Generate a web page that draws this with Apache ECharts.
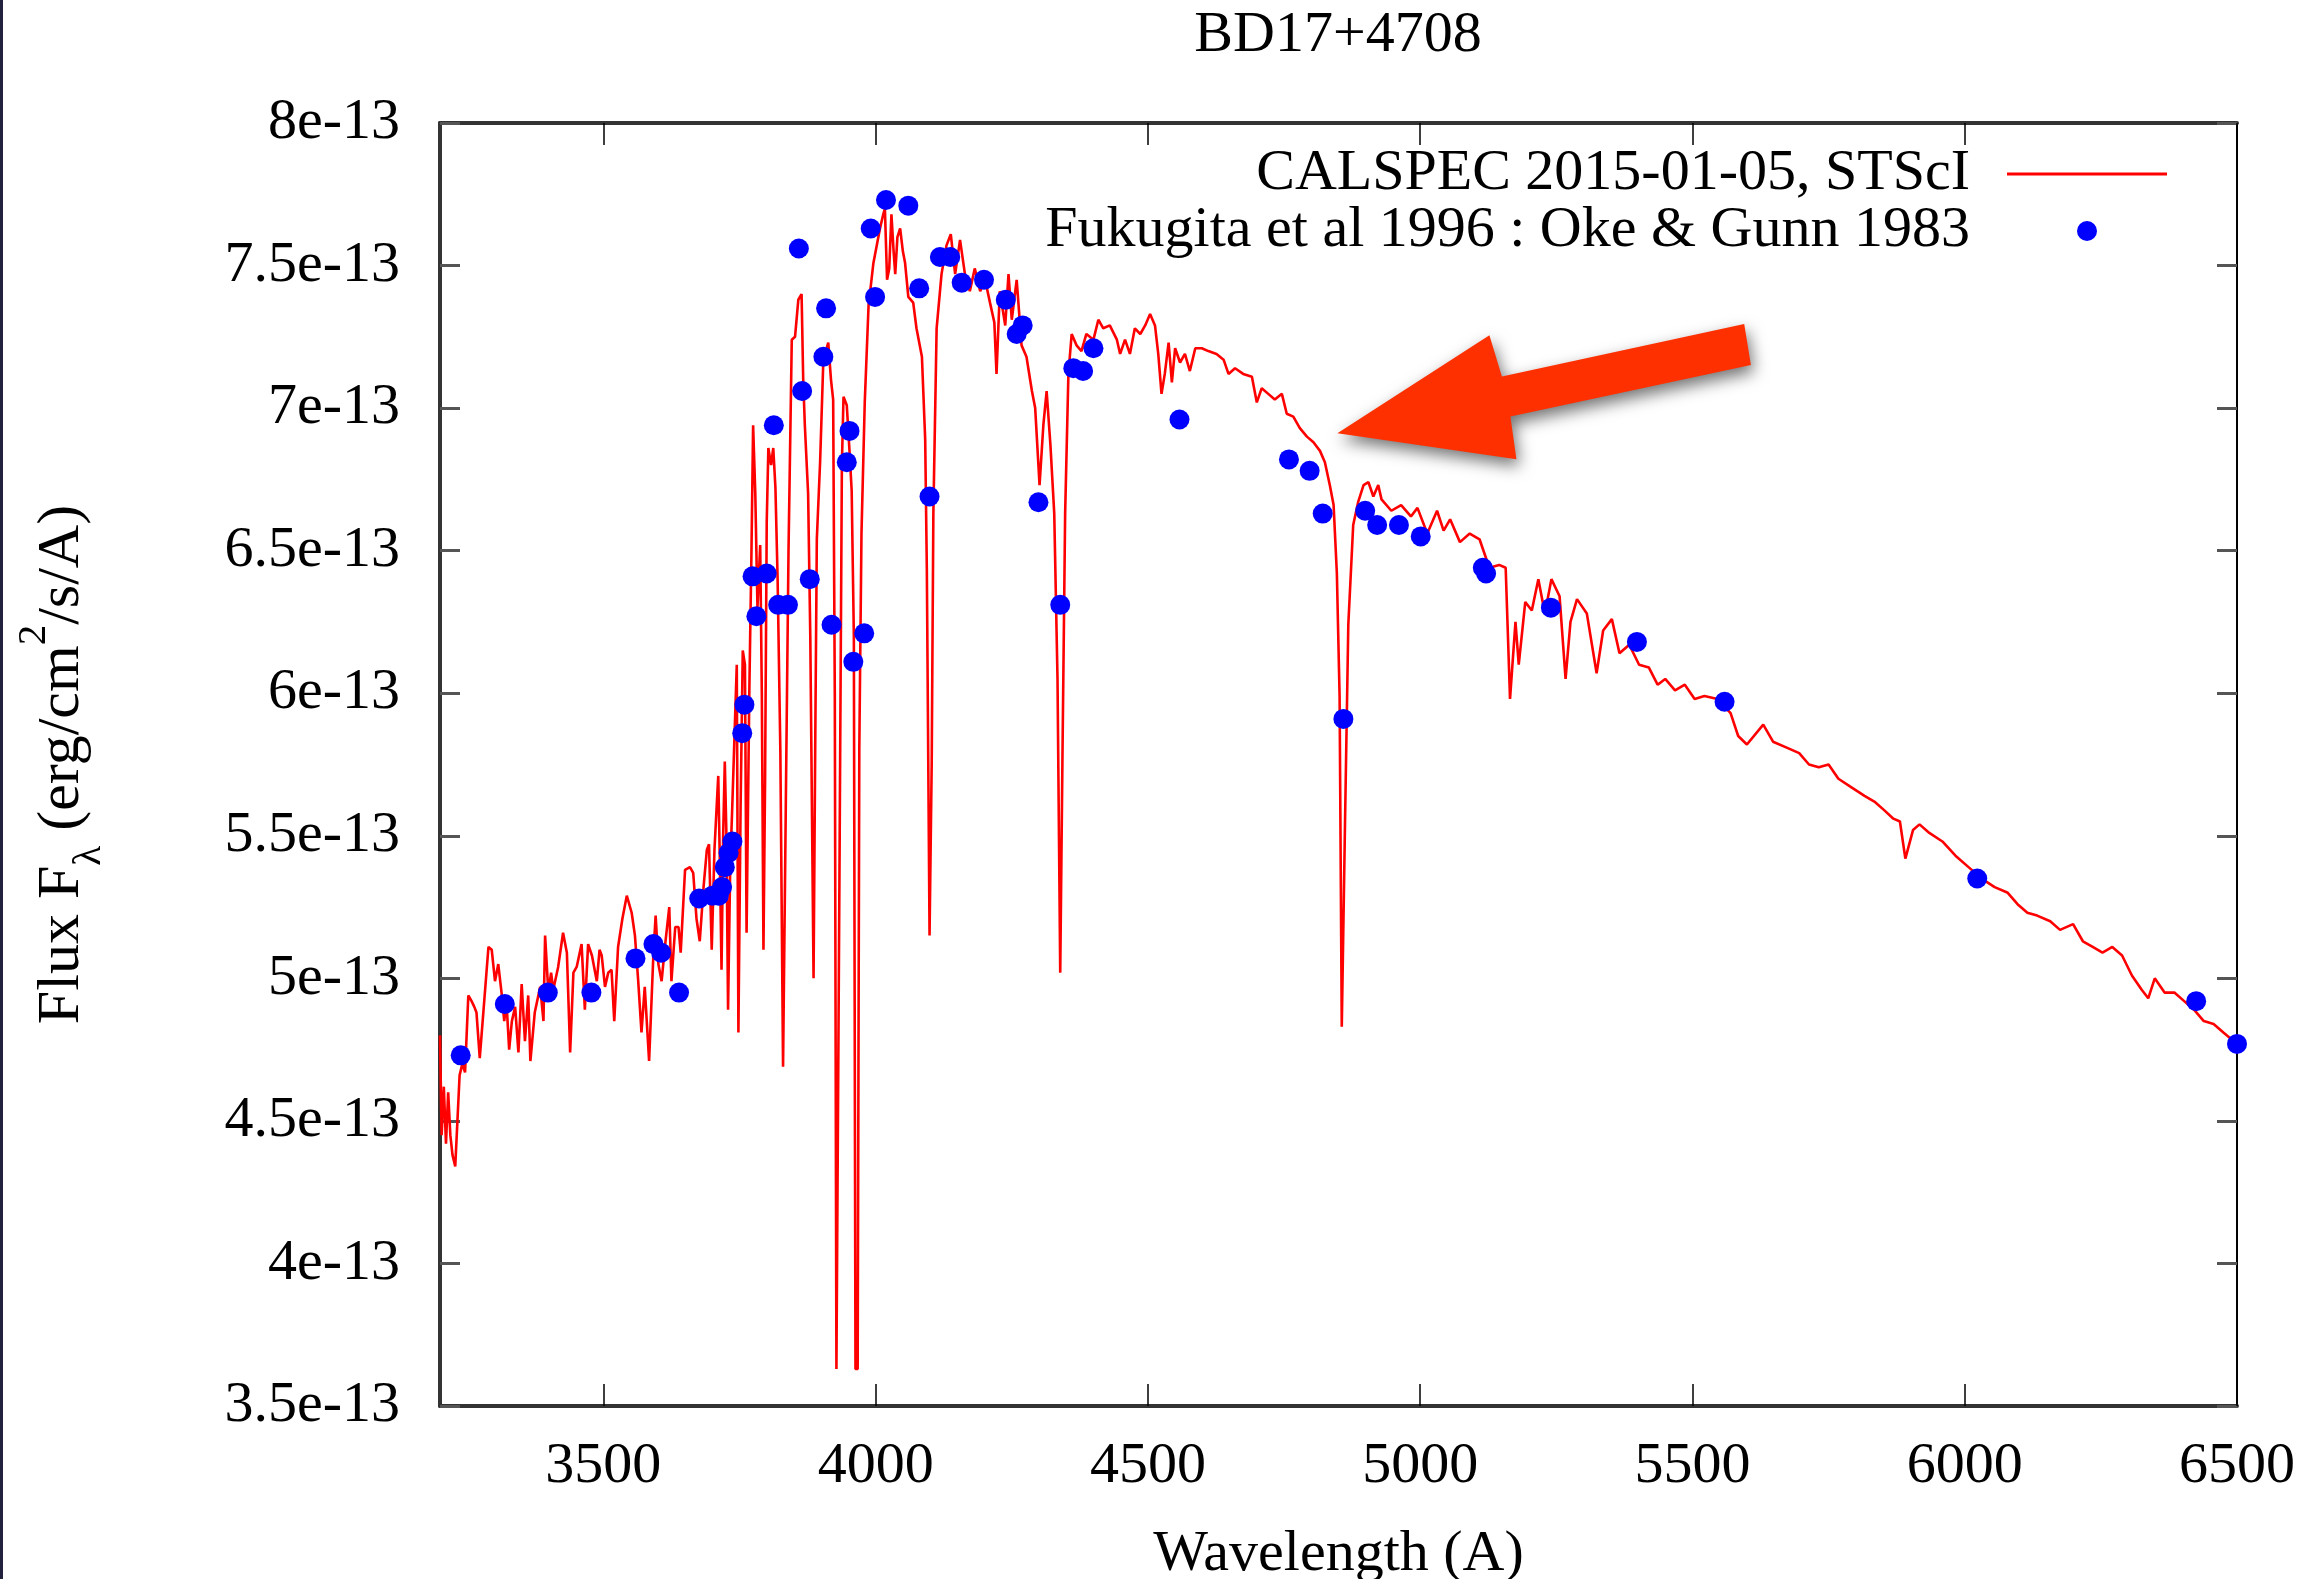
<!DOCTYPE html>
<html>
<head>
<meta charset="utf-8">
<script src="https://cdn.jsdelivr.net/npm/echarts@6/dist/echarts.min.js"></script>
<style>
html,body{margin:0;padding:0;background:#fff;}
#chart{width:2323px;height:1579px;}
</style>
</head>
<body>
<div id="chart"></div>
<script>
// Flux values are in units of 1e-13 erg/cm^2/s/A
const specWavelength = [
3200,3203,3207,3211,3215,3219,3223,3228,3232,3236,3241,3246,3252,3258,3263,3267,3273,3280,3289,3295,
3301,3307,3313,3318,3322,3327,3332,3338,3344,3350,3356,3362,3366,3374,3384,3390,3393,3399,3404,3408,
3417,3426,3433,3439,3445,3451,3460,3466,3472,3479,3488,3493,3497,3503,3509,3515,3520,3527,3535,3543,
3552,3558,3564,3570,3576,3584,3592,3596,3601,3607,3613,3621,3625,3632,3638,3642,3650,3659,3665,3671,
3677,3684,3690,3694,3699,3704,3708,3711,3714,3717,3720,3723,3726,3729,3733,3736,3740,3745,3748,3752,
3756,3760,3763,3768,3772,3775,3779,3783,3788,3791,3794,3797,3800,3803,3808,3812,3816,3820,3825,3830,
3835,3840,3846,3852,3858,3864,3867,3870,3876,3880,3886,3889,3892,3898,3904,3913,3918,3922,3925,3928,
3931,3934,3938,3941,3947,3952,3956,3960,3963,3967,3970,3974,3980,3987,3996,4003,4008,4014,4017,4021,
4025,4029,4033,4036,4040,4045,4050,4054,4060,4069,4075,4085,4091,4094,4099,4103,4106,4112,4121,4130,
4138,4146,4155,4164,4173,4182,4192,4201,4210,4218,4222,4228,4238,4244,4250,4259,4268,4277,4287,4293,
4301,4308,4314,4321,4328,4334,4339,4343,4348,4354,4360,4369,4378,4387,4400,4409,4418,4430,4443,4449,
4458,4467,4476,4486,4495,4504,4513,4519,4525,4531,4538,4544,4550,4559,4568,4577,4587,4599,4611,4626,
4639,4648,4660,4675,4691,4700,4709,4721,4733,4746,4755,4767,4779,4792,4804,4816,4825,4834,4841,4847,
4852,4856,4862,4868,4877,4886,4896,4905,4914,4923,4929,4947,4965,4983,4995,5013,5031,5043,5055,5073,
5091,5109,5127,5145,5157,5165,5175,5181,5193,5205,5217,5229,5241,5256,5267,5276,5288,5306,5324,5336,
5352,5366,5384,5402,5420,5436,5450,5468,5486,5504,5522,5546,5570,5584,5600,5630,5648,5672,5696,5714,
5732,5750,5768,5792,5816,5834,5852,5869,5881,5891,5905,5917,5935,5959,5983,6007,6031,6055,6079,6097,
6115,6133,6157,6175,6199,6217,6235,6253,6271,6289,6307,6325,6337,6349,6367,6385,6403,6421,6439,6457,
6475,6500
];
const specFlux = [
4.80,4.45,4.62,4.42,4.60,4.45,4.38,4.34,4.50,4.66,4.70,4.67,4.94,4.92,4.90,4.88,4.72,4.89,5.11,5.10,
4.99,5.05,4.95,4.85,4.92,4.75,4.85,4.90,4.74,4.98,4.78,4.94,4.71,4.88,4.97,4.85,5.15,4.95,5.02,4.96,
5.04,5.16,5.09,4.74,5.02,5.04,5.12,4.89,5.12,5.08,4.99,5.10,5.08,4.97,5.02,5.03,4.85,5.11,5.21,5.29,
5.23,5.15,4.99,4.81,4.97,4.71,5.09,5.22,5.05,4.99,5.11,5.25,4.99,5.18,5.18,5.09,5.38,5.39,5.37,5.21,
5.13,5.32,5.45,5.47,5.10,5.45,5.60,5.71,5.40,5.03,5.50,5.76,5.50,4.89,5.40,5.56,5.80,6.10,4.81,5.60,
6.15,6.10,5.16,6.00,6.50,6.94,6.70,6.30,6.52,6.00,5.10,5.70,6.60,6.86,6.80,6.86,6.72,6.40,5.80,4.69,
5.60,6.50,7.24,7.25,7.38,7.40,7.10,6.94,6.70,6.20,5.00,5.80,6.54,6.81,7.17,7.23,7.10,7.03,6.00,3.63,
3.63,5.50,6.80,7.04,7.01,6.85,6.71,6.20,3.63,3.63,5.80,6.56,7.02,7.36,7.51,7.58,7.63,7.68,7.70,7.45,
7.49,7.68,7.55,7.47,7.60,7.63,7.55,7.51,7.39,7.37,7.28,7.18,6.89,6.44,5.15,5.76,6.63,7.28,7.47,7.57,
7.61,7.47,7.59,7.47,7.41,7.49,7.41,7.45,7.37,7.30,7.12,7.41,7.29,7.47,7.31,7.45,7.22,7.18,7.06,7.00,
6.73,6.94,7.06,6.87,6.63,6.05,5.02,5.76,6.63,7.12,7.26,7.22,7.20,7.26,7.24,7.31,7.28,7.29,7.24,7.19,
7.24,7.19,7.28,7.26,7.29,7.33,7.29,7.19,7.05,7.12,7.23,7.09,7.21,7.16,7.19,7.13,7.21,7.21,7.20,7.19,
7.17,7.12,7.14,7.12,7.11,7.02,7.07,7.05,7.03,7.05,6.98,6.97,6.93,6.90,6.88,6.85,6.81,6.73,6.66,6.42,
5.99,4.83,5.55,6.24,6.59,6.67,6.73,6.74,6.69,6.73,6.68,6.64,6.66,6.62,6.65,6.56,6.64,6.57,6.61,6.53,
6.56,6.54,6.44,6.45,6.44,5.98,6.25,6.10,6.32,6.29,6.40,6.28,6.40,6.34,6.05,6.25,6.33,6.28,6.07,6.22,
6.26,6.14,6.17,6.10,6.09,6.03,6.05,6.01,6.03,5.98,5.99,5.98,5.93,5.85,5.82,5.89,5.83,5.81,5.79,5.75,
5.74,5.75,5.70,5.67,5.64,5.62,5.59,5.56,5.55,5.42,5.52,5.54,5.51,5.48,5.43,5.39,5.35,5.32,5.30,5.26,
5.23,5.22,5.20,5.17,5.19,5.13,5.11,5.09,5.11,5.08,5.01,4.96,4.93,5.00,4.95,4.95,4.92,4.89,4.85,4.84,
4.81,4.77
];
const ogWavelength = [
3238,3319,3398,3478,3559,3592,3606,3639,3676,3700,3712,3718,3723,3730,3737,3755,3759,3774,3781,3800,
3813,3821,3839,3859,3865,3879,3904,3909,3919,3947,3952,3959,3979,3991,3999,4019,4060,4080,4099,4118,
4137,4158,4199,4239,4259,4270,4299,4339,4363,4381,4400,4558,4759,4797,4821,4859,4899,4921,4961,5001,
5115,5121,5240,5398,5559,6023,6425,6500
];
const ogFlux = [
4.73,4.91,4.95,4.95,5.07,5.12,5.09,4.95,5.28,5.29,5.29,5.32,5.39,5.44,5.48,5.86,5.96,6.41,6.27,6.42,
6.94,6.31,6.31,7.56,7.06,6.40,7.18,7.35,6.24,6.81,6.92,6.11,6.21,7.63,7.39,7.73,7.71,7.42,6.69,7.53,
7.53,7.44,7.45,7.38,7.26,7.29,6.67,6.31,7.14,7.13,7.21,6.96,6.82,6.78,6.63,5.91,6.64,6.59,6.59,6.55,
6.44,6.42,6.30,6.18,5.97,5.35,4.92,4.77
];
const xTickValues = [3500,4000,4500,5000,5500,6000,6500];
const seriesNames = ['CALSPEC 2015-01-05, STScI', 'Fukugita et al 1996 : Oke & Gunn 1983'];
const titleText = 'BD17+4708';
// annotation arrow anchor (data coords) – tip of the arrow
const arrowTip = [4848, 6.912];

const FONT = '"Liberation Serif", "Times New Roman", serif';
const FS = 58;

const specData = specWavelength.map((w, i) => [w, specFlux[i]]);
const ogData = ogWavelength.map((w, i) => [w, ogFlux[i]]);

const chart = echarts.init(document.getElementById('chart'), null, {renderer: 'canvas'});

const baseText = {fontFamily: FONT, fontSize: FS, color: '#000'};

const option = {
  backgroundColor: '#fff',
  animation: false,
  title: {
    text: titleText,
    left: 1338,
    top: 7,
    padding: 0,
    textAlign: 'center',
    textStyle: Object.assign({}, baseText, {fontWeight: 'normal'})
  },
  legend: [
    {
      data: [{name: seriesNames[0], icon: 'rect'}],
      orient: 'horizontal', align: 'right', right: 156, top: 145, padding: 0,
      itemWidth: 160, itemHeight: 3, selectedMode: false,
      itemStyle: {color: '#ff0000'},
      textStyle: Object.assign({}, baseText, {padding: [0, 32, 0, 0]})
    },
    {
      data: [{name: seriesNames[1], icon: 'circle'}],
      orient: 'horizontal', align: 'right', right: 226, top: 202, padding: 0,
      itemWidth: 20, itemHeight: 20, selectedMode: false,
      itemStyle: {color: '#0000ff'},
      textStyle: Object.assign({}, baseText, {padding: [0, 102, 0, 0]})
    }
  ],
  grid: {left: 440, right: 86, top: 123, bottom: 173, containLabel: false, outerBoundsMode: 'none'},
  xAxis: [
    {
      type: 'value', min: 3200, max: 6500, position: 'bottom',
      name: 'Wavelength (A)', nameLocation: 'middle', nameGap: 120,
      nameTextStyle: baseText,
      axisLine: {show: true, onZero: false, lineStyle: {color: '#333', width: 4}},
      axisTick: {show: true, inside: true, length: 22, customValues: xTickValues, lineStyle: {color: '#000', width: 1.5}},
      axisLabel: {show: true, customValues: xTickValues, margin: 32, fontFamily: FONT, fontSize: FS, color: '#000',
                  formatter: v => String(v)},
      splitLine: {show: false}
    },
    {
      type: 'value', min: 3200, max: 6500, position: 'top',
      axisLine: {show: true, onZero: false, lineStyle: {color: '#333', width: 4}},
      axisTick: {show: true, inside: true, length: 22, customValues: xTickValues, lineStyle: {color: '#000', width: 1.5}},
      axisLabel: {show: false},
      splitLine: {show: false}
    }
  ],
  yAxis: [
    {
      type: 'value', min: 3.5, max: 8, interval: 0.5, position: 'left',
      name: '{n|Flux F}{sub|λ}{n| (erg/cm}{sup|2}{n|/s/A)}',
      nameLocation: 'middle', nameGap: 330,
      nameTextStyle: {
        rich: {
          n: {fontFamily: FONT, fontSize: 60, color: '#000', lineHeight: 96, verticalAlign: 'middle'},
          sub: {fontFamily: FONT, fontSize: 41, color: '#000', lineHeight: 50, verticalAlign: 'bottom'},
          sup: {fontFamily: FONT, fontSize: 41, color: '#000', lineHeight: 40, verticalAlign: 'top'}
        }
      },
      axisLine: {show: true, onZero: false, lineStyle: {color: '#333', width: 4}},
      axisTick: {show: true, inside: true, length: 20, lineStyle: {color: '#555', width: 3}},
      axisLabel: {
        show: true, margin: 40, fontFamily: FONT, fontSize: FS, color: '#000',
        formatter: v => (Math.round(v * 10) / 10) + 'e-13'
      },
      splitLine: {show: false}
    },
    {
      type: 'value', min: 3.5, max: 8, interval: 0.5, position: 'right',
      axisLine: {show: true, onZero: false, lineStyle: {color: '#000', width: 2}},
      axisTick: {show: true, inside: true, length: 20, lineStyle: {color: '#555', width: 3}},
      axisLabel: {show: false},
      splitLine: {show: false}
    }
  ],
  series: [
    {
      name: seriesNames[0], type: 'line', xAxisIndex: 0, yAxisIndex: 0,
      data: specData, showSymbol: false, symbol: 'none', smooth: false,
      lineStyle: {color: '#ff0000', width: 2.6},
      itemStyle: {color: '#ff0000'},
      z: 2
    },
    {
      name: seriesNames[1], type: 'scatter', xAxisIndex: 0, yAxisIndex: 0,
      data: ogData, symbol: 'circle', symbolSize: 20, clip: false,
      itemStyle: {color: '#0000ff', opacity: 1},
      z: 3
    }
  ]
};

chart.setOption(option);

// annotation arrow (pixel offsets relative to the tip)
const arrowOffsets = [[0,0],[152,-98],[164.5,-56.6],[406.8,-109.3],[413.5,-68.3],[173,-16.6],[179,26]];
const tip = chart.convertToPixel({xAxisIndex: 0, yAxisIndex: 0}, arrowTip);
const arrowPts = arrowOffsets.map(p => [tip[0] + p[0], tip[1] + p[1]]);

chart.setOption({
  graphic: [
    {
      type: 'polygon', z: 100,
      shape: {points: arrowPts},
      style: {fill: '#ff3000', shadowBlur: 16, shadowColor: 'rgba(0,0,0,0.55)', shadowOffsetX: 3, shadowOffsetY: 7}
    },
    {
      type: 'rect', z: 100,
      shape: {x: 0, y: 0, width: 3, height: 1579},
      style: {fill: '#22223f'}
    }
  ]
});
</script>
</body>
</html>
